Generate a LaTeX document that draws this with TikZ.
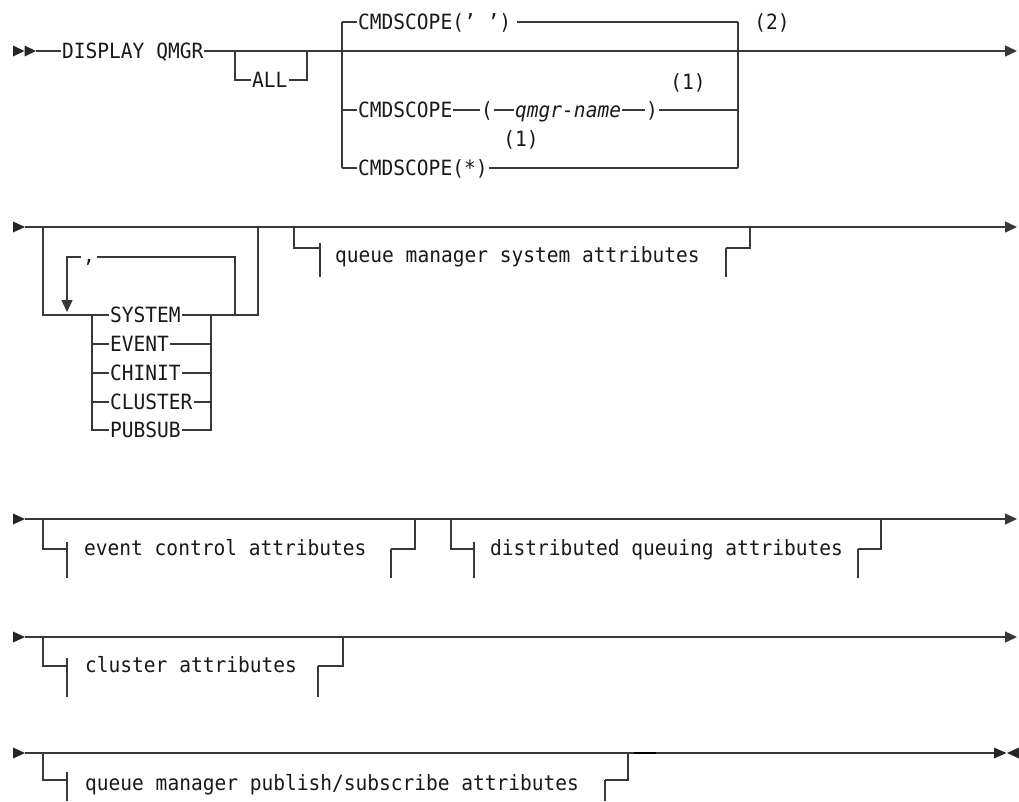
\documentclass[tikz,border=0pt]{standalone}
\usepackage{fontspec}
\usetikzlibrary{arrows.meta}
\newfontfamily\dmono[FakeStretch=0.93]{DejaVu Sans Mono}
\tikzset{
  ln/.style={line width=1.4pt, draw=black!78},
  tip/.style={-{Triangle[length=12pt,width=11pt]}},
  kw/.style={inner xsep=1pt, inner ysep=0pt, font=\dmono\fontsize{21}{22}\selectfont, text height=15.3pt, text depth=0pt, anchor=west, text=black!90},
  frag/.style={kw, text height=11.4pt},
  nt/.style={kw, anchor=center},
  trifill/.style={fill=black!85}
}
\begin{document}
\begin{tikzpicture}[x=1pt,y=-1pt]
\useasboundingbox (0,0) rectangle (1019,801);
% ---------------- Row 1 ----------------
\fill[trifill] (13,45.5) -- (24.5,51) -- (13,56.5) -- cycle;
\fill[trifill] (24.5,45.5) -- (36,51) -- (24.5,56.5) -- cycle;
\coordinate (s1) at (36,51);
\coordinate (e1) at (1017,51);
\node[kw] (display) at (61,51) {DISPLAY QMGR};
\draw[ln] (s1) -- (display.west);
\draw[ln,tip] (display.east) -- (e1);
% ALL
\node[kw] (all) at (251,80) {ALL};
\coordinate (allL) at (235,51);
\coordinate (allR) at (307,51);
\draw[ln] (allL) |- (all.west);
\draw[ln] (all.east) -| (allR);
% CMDSCOPE choices
\coordinate (cL1) at (342,22);
\coordinate (cL2) at (342,168);
\coordinate (cR1) at (738,22);
\coordinate (cR2) at (738,168);
\draw[ln] (cL1) -- (cL2);
\draw[ln] (cR1) -- (cR2);
\node[kw] (c1) at (357,22) {CMDSCOPE(’ ’)};
\draw[ln] (cL1) -- (c1.west);
\draw[ln] (517,22) -- (cR1);
\node[kw] (c2) at (357,110) {CMDSCOPE};
\node[kw] (lp) at (480,110) {(};
\node[kw, font=\dmono\itshape\fontsize{21}{22}\selectfont] (qn) at (514,110) {qmgr-name};
\node[kw] (rp) at (645,110) {)};
\draw[ln] (342,110) -- (c2.west);
\draw[ln] (c2.east) -- (lp.west);
\draw[ln] (lp.east) -- (qn.west);
\draw[ln] (qn.east) -- (rp.west);
\draw[ln] (rp.east) -- (738,110);
\node[kw] (c3) at (357,168) {CMDSCOPE(*)};
\draw[ln] (cL2) -- (c3.west);
\draw[ln] (c3.east) -- (cR2);
\node[nt] (n2) at (772,22) {(2)};
\node[nt] (n1a) at (688,82) {(1)};
\node[nt] (n1b) at (521,139) {(1)};
% ---------------- Row 2 ----------------
\fill[trifill] (13,221.5) -- (25,227) -- (13,232.5) -- cycle;
\coordinate (s2) at (25,227);
\coordinate (e2) at (1017,227);
\draw[ln,tip] (s2) -- (e2);
\node[kw] (sys) at (109,315) {SYSTEM};
\node[kw] (evt) at (109,344) {EVENT};
\node[kw] (chi) at (109,373) {CHINIT};
\node[kw] (clu) at (109,402) {CLUSTER};
\node[kw] (pub) at (109,430) {PUBSUB};
\draw[ln] (43,227) |- (sys.west);
\draw[ln] (sys.east) -| (258,227);
% repeat loop
\node[kw, anchor=base] (comma) at (89,262) {,};
\draw[ln] (235,315) |- (97,257);
\draw[ln,tip] (81,257) -| (67,312);
% choice list
\draw[ln] (92,315) |- (pub.west);
\draw[ln] (92,344) -- (evt.west);
\draw[ln] (92,373) -- (chi.west);
\draw[ln] (92,402) -- (clu.west);
\draw[ln] (pub.east) -| (211,315);
\draw[ln] (evt.east) -- (211,344);
\draw[ln] (chi.east) -- (211,373);
\draw[ln] (clu.east) -- (211,402);
% fragment: queue manager system attributes
\draw[ln] (294,227) |- (320,248);
\draw[ln] (320,243) -- (320,277);
\node[frag] (qms) at (334,257) {queue manager system attributes};
\draw[ln] (726,248) -- (726,277);
\draw[ln] (726,248) -| (750,227);
% ---------------- Row 3 ----------------
\fill[trifill] (13,513.5) -- (25,519) -- (13,524.5) -- cycle;
\coordinate (s3) at (25,519);
\coordinate (e3) at (1017,519);
\draw[ln,tip] (s3) -- (e3);
\draw[ln] (43,519) |- (67,549);
\draw[ln] (67,542) -- (67,578);
\node[frag] (eca) at (83,550) {event control attributes};
\draw[ln] (391,549) -- (391,578);
\draw[ln] (391,549) -| (415,519);
\draw[ln] (451,519) |- (474,549);
\draw[ln] (474,542) -- (474,578);
\node[frag] (dqa) at (489,550) {distributed queuing attributes};
\draw[ln] (858,549) -- (858,578);
\draw[ln] (858,549) -| (881,519);
% ---------------- Row 4 ----------------
\fill[trifill] (13,631.5) -- (25,637) -- (13,642.5) -- cycle;
\coordinate (s4) at (25,637);
\coordinate (e4) at (1017,637);
\draw[ln,tip] (s4) -- (e4);
\draw[ln] (43,637) |- (67,666);
\draw[ln] (67,658) -- (67,697);
\node[frag] (cla) at (84,667) {cluster attributes};
\draw[ln] (318,666) -- (318,697);
\draw[ln] (318,666) -| (343,637);
% ---------------- Row 5 ----------------
\fill[trifill] (13,747.5) -- (25,753) -- (13,758.5) -- cycle;
\coordinate (s5) at (25,753);
\coordinate (e5) at (994,753);
\draw[ln] (s5) -- (e5);
\fill[trifill] (994,747.5) -- (1006.5,753) -- (994,758.5) -- cycle;
\fill[trifill] (1019,747.5) -- (1007,753) -- (1019,758.5) -- cycle;
\draw[ln] (43,753) |- (67,780);
\draw[ln] (67,772) -- (67,801);
\node[frag] (pba) at (84,785) {queue manager publish/subscribe attributes};
\draw[ln] (605,780) -- (605,801);
\draw[ln] (605,780) -| (628,753);
\draw[line width=2.2pt, black] (634,752.6) -- (656,752.6);
\end{tikzpicture}
\end{document}
